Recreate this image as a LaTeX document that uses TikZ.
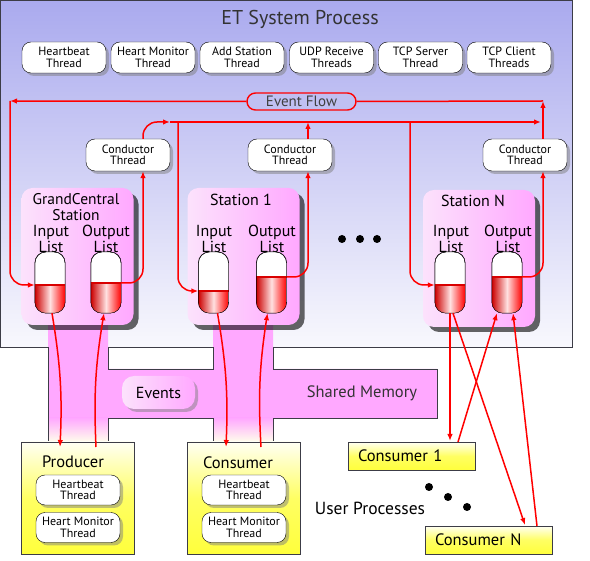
\documentclass[tikz,border=0pt]{standalone}
\usepackage{fontspec}
\setmainfont{PT Sans}
\usepackage{tikz}
\usetikzlibrary{positioning,calc,shadows,arrows.meta}

\definecolor{etTop}{RGB}{170,170,238}
\definecolor{etBot}{RGB}{248,248,253}
\definecolor{memPink}{RGB}{255,168,255}
\definecolor{stPink}{RGB}{255,168,255}
\definecolor{stLight}{RGB}{252,226,252}
\definecolor{userYellow}{RGB}{255,255,60}
\definecolor{edgeGray}{RGB}{60,60,70}

\tikzset{
	etbox/.style={draw=edgeGray, line width=0.8pt, top color=etTop, bottom color=etBot, minimum width=572pt, minimum height=347pt, inner sep=0pt, outer sep=0pt},
	titletext/.style={font=\fontsize{20}{21}\selectfont, text=black!80},
	thread/.style={draw=black, fill=white, rounded corners=9pt, minimum width=84pt, minimum height=31pt, inner sep=0pt, align=center, font=\fontsize{12}{11.5}\selectfont, drop shadow={shadow xshift=3pt, shadow yshift=-3pt, opacity=.5}},
	stationbox/.style={rounded corners=11pt, left color=stLight, right color=stPink, minimum width=112pt, minimum height=137pt, drop shadow={shadow xshift=5pt, shadow yshift=-5pt, opacity=.6, fill=black}},
	sttext/.style={align=center, font=\fontsize{16}{14.5}\selectfont, inner sep=0pt},
	tube/.style={draw=black, rounded corners=11pt, minimum width=30pt, minimum height=61pt, inner sep=0pt, fill=white},
	userbox/.style={draw=edgeGray, line width=0.8pt, top color=userYellow!6!white, bottom color=userYellow, middle color=userYellow!80!white},
	usertext/.style={font=\fontsize{16.5}{17}\selectfont},
	eventsbox/.style={rounded corners=12pt, left color=stLight, right color=stPink, minimum width=73pt, minimum height=33pt, font=\fontsize{16}{17}\selectfont, drop shadow={shadow xshift=3pt, shadow yshift=-3pt, opacity=.5}},
	flowbox/.style={draw=red, line width=1.4pt, rounded corners=8.5pt, fill=etTop!72!etBot, minimum width=109pt, minimum height=17pt, inner sep=0pt, font=\fontsize{15}{16}\selectfont, text=black!75},
	flow/.style={draw=red, line width=1.5pt, -{Latex[length=7pt,width=5.5pt]}},
	redline/.style={draw=red, line width=1.5pt},
}

\newcommand{\listtube}[3]{%
	\node[tube] (#1) at (#2,282.5) {};
	\begin{scope}
		\clip[rounded corners=11pt] (#1.south west) rectangle (#1.north east);
		\shade[left color=red!80!black, right color=red, middle color=red!12] (#1.west |- 0,#3) rectangle (#1.south east);
	\end{scope}
	\draw[red!85!black, line width=2pt] (#1.west |- 0,#3) -- (#1.east |- 0,#3);
	\draw[black, rounded corners=11pt] (#1.south west) rectangle (#1.north east);
}

\begin{document}
\begin{tikzpicture}[x=1pt,y=-1pt]
	\useasboundingbox (0,0) rectangle (590,561);
	\node[etbox] (etproc) at (286,173.5) {};
	\node[titletext] (ettitle) at (300,19) {ET System Process};
	
	\fill[memPink] (48,320) -- (108,320) -- (108,369) -- (213,369) -- (213,320) -- (273,320) -- (273,369) -- (437,369) -- (437,418) -- (273,418) -- (273,442) -- (213,442) -- (213,418) -- (108,418) -- (108,442) -- (48,442) -- cycle;
	\shade[top color=memPink, bottom color=userYellow!10!white] (48,418) rectangle (108,442);
	\shade[top color=memPink, bottom color=userYellow!10!white] (213,418) rectangle (273,442);
	\draw[edgeGray, line width=0.8pt] (48,347) -- (48,442);
	\draw[edgeGray, line width=0.8pt] (108,347) -- (108,369) -- (213,369) -- (213,347);
	\draw[edgeGray, line width=0.8pt] (273,347) -- (273,369) -- (437,369) -- (437,418) -- (273,418) -- (273,442);
	\draw[edgeGray, line width=0.8pt] (213,442) -- (213,418) -- (108,418) -- (108,442);
	\node[font=\fontsize{16.5}{17}\selectfont, text=black!80] (shmem) at (362,393) {Shared Memory};
	\node[eventsbox] (events) at (158.5,392.5) {Events};
	
	\node[thread] (hbeat) at (64,57.5) {Heartbeat\\Thread};
	\node[thread] (hmon) at (153,57.5) {Heart Monitor\\Thread};
	\node[thread] (addst) at (242,57.5) {Add Station\\Thread};
	\node[thread] (udprecv) at (331.5,57.5) {UDP Receive\\Threads};
	\node[thread] (tcpserv) at (420.5,57.5) {TCP Server\\Thread};
	\node[thread] (tcpcli) at (509,57.5) {TCP Client\\Threads};
	
	\node[flowbox] (evflow) at (301.5,101.5) {Event Flow};
	
	\node[thread, minimum height=32pt] (condG) at (128,155) {Conductor\\Thread};
	\node[thread, minimum height=32pt] (condA) at (290,155) {Conductor\\Thread};
	\node[thread, minimum height=32pt] (condN) at (525,155) {Conductor\\Thread};
	
	\node[stationbox] (gcst) at (77.5,256.5) {};
	\node[stationbox] (st1) at (243.5,256.5) {};
	\node[stationbox] (stN) at (479,258.5) {};
	\node[sttext, font=\fontsize{15.5}{15.5}\selectfont] (gcname) at (76,207) {GrandCentral\\Station};
	\node[sttext] (st1name) at (241,200) {Station 1};
	\node[sttext] (stNname) at (473,201) {Station N};
	\node[sttext] (gcinlbl) at (51,239) {Input\\List};
	\node[sttext] (gcoutlbl) at (106,239) {Output\\List};
	\node[sttext] (st1inlbl) at (214,239) {Input\\List};
	\node[sttext] (st1outlbl) at (272,239) {Output\\List};
	\node[sttext] (stNinlbl) at (451,239) {Input\\List};
	\node[sttext] (stNoutlbl) at (508,239) {Output\\List};
	
	\listtube{gIn}{50}{285}
	\listtube{gOut}{106}{283}
	\listtube{aIn}{213.5}{291}
	\listtube{aOut}{271.5}{277}
	\listtube{nIn}{450}{285}
	\listtube{nOut}{507}{277}
	
	\fill (342,239) circle (4);
	\fill (360,239) circle (4);
	\fill (377,239) circle (4);
	
	\node[userbox, minimum width=113pt, minimum height=112pt] (producer) at (77.5,498) {};
	\node[usertext] (prodname) at (73,462) {Producer};
	\node[thread, minimum height=30pt] (prodhb) at (78,490) {Heartbeat\\Thread};
	\node[thread, minimum height=30pt] (prodhm) at (78,527.5) {Heart Monitor\\Thread};
	\node[userbox, minimum width=113pt, minimum height=112pt] (consumer) at (243.5,498) {};
	\node[usertext] (consname) at (238,463) {Consumer};
	\node[thread, minimum height=30pt] (conshb) at (244,490) {Heartbeat\\Thread};
	\node[thread, minimum height=30pt] (conshm) at (244,527.5) {Heart Monitor\\Thread};
	
	\node[userbox, minimum width=127pt, minimum height=28pt, usertext, align=left, text width=107pt] (cons1) at (411.5,456) {Consumer 1};
	\node[userbox, minimum width=127pt, minimum height=28pt, usertext, align=left, text width=107pt] (consN) at (488.5,540) {Consumer N};
	\node[usertext, font=\fontsize{17.5}{18}\selectfont] (userproc) at (370,508) {User Processes};
	\fill (429,487) circle (4);
	\fill (448,497) circle (4);
	\fill (467,507) circle (4);
	
	\coordinate (cG) at (143,122);
	\coordinate (cA) at (308,122);
	\coordinate (cN) at (543,101);
	\coordinate (fNW) at (10,101);
	\coordinate (rowW) at (170,122);
	\coordinate (rowE) at (541,122);
	\coordinate (rowA) at (178,122);
	\coordinate (rowN) at (410,122);
	\coordinate (prodIn) at (60,447);
	\coordinate (prodOut) at (96,447);
	\coordinate (consIn) at (226,447);
	\coordinate (consOut) at (261,447);
	\coordinate (c1In) at (450,441);
	\coordinate (c1Out) at (458,442);
	\coordinate (cNIn) at (525,525);
	\coordinate (cNOut) at (537,526);
	
	\draw[flow] (condN.north -| cN) -- (cN);
	\draw[redline] (cN) -- (evflow.east);
	\draw[flow] (evflow.west) -- (fNW);
	\draw[flow, rounded corners=14pt] (fNW) |- (gIn.west |- 0,285);
	\draw[flow, rounded corners=14pt] (condG.north -| cG) |- (rowW);
	\draw[flow] (rowW) -- (rowE);
	\draw[flow, rounded corners=14pt] (rowA) |- (aIn.west |- 0,291);
	\draw[flow, rounded corners=14pt] (rowN) |- (nIn.west |- 0,285);
	\draw[flow] (condA.north -| cA) -- (cA);
	\draw[flow, rounded corners=14pt] (gOut.east |- 0,283) -| (condG.south -| cG);
	\draw[flow, rounded corners=14pt] (aOut.east |- 0,277) -| (condA.south -| cA);
	\draw[flow, rounded corners=14pt] (nOut.east |- 0,277) -| (condN.south -| cN);
	
	\draw[flow] ([xshift=2pt]gIn.south) to[bend left=6] (prodIn);
	\draw[flow] (prodOut) to[bend left=6] ([xshift=-2pt]gOut.south);
	\draw[flow] ([xshift=4pt]aIn.south) to[bend left=6] (consIn);
	\draw[flow] (consOut) to[bend left=6] ([xshift=-4pt]aOut.south);
	\draw[flow] (nIn.south) -- (c1In);
	\draw[flow] ([xshift=3pt]nIn.south) -- (cNIn);
	\draw[flow] (c1Out) -- ([xshift=-10pt]nOut.south);
	\draw[flow] (cNOut) -- ([xshift=6pt]nOut.south);
\end{tikzpicture}
\end{document}
